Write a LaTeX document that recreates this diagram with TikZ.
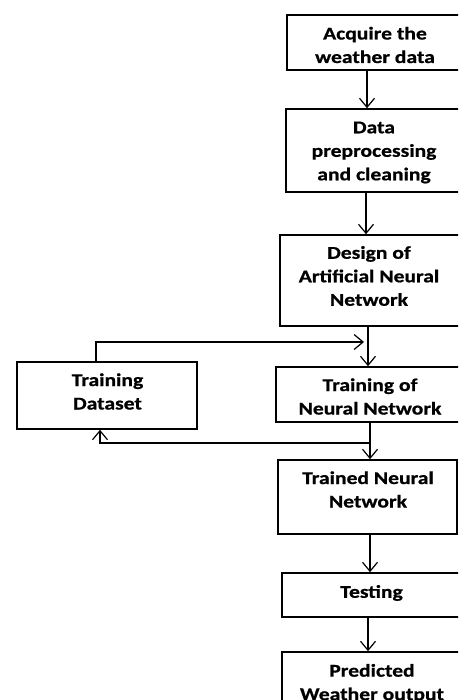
\documentclass[tikz,border=0pt]{standalone}
\usepackage{fontspec}
\setmainfont{Carlito}[FakeStretch=1.2,BoldFeatures={FakeBold=0.8}]
\usetikzlibrary{arrows.meta}
\begin{document}
\begin{tikzpicture}[x=1pt,y=-1pt,
  box/.style={draw=black,line width=1.6pt,rectangle,inner sep=0pt},
  txt/.style={align=center,font=\fontsize{18}{23.5}\selectfont\bfseries,inner sep=0pt,text=black},
  arr/.style={draw=black,line width=1.2pt,-{Straight Barb[length=9pt,width=15pt,line width=1.2pt]}},
  ln/.style={draw=black,line width=1.2pt}]
\useasboundingbox (0,0) rectangle (458,700);
\clip (0,0) rectangle (458,700);
% boxes
\node[box,minimum width=176pt,minimum height=55pt] (b1) at (375,42.5) {};
\node[box,minimum width=176pt,minimum height=83pt] (b2) at (374,150.5) {};
\node[box,minimum width=182pt,minimum height=91pt] (b3) at (371,280.5) {};
\node[box,minimum width=188pt,minimum height=55pt] (b4) at (370,394.5) {};
\node[box,minimum width=180pt,minimum height=67pt] (td) at (107,395.5) {};
\node[box,minimum width=179pt,minimum height=74pt] (b5) at (367.5,497) {};
\node[box,minimum width=180pt,minimum height=44pt] (b6) at (372,595) {};
\node[box,minimum width=180pt,minimum height=68pt] (b7) at (372,686) {};
% texts
\node[txt] (t1) at (375,45) {Acquire the\\weather data};
\node[txt] (t2) at (374,152.5) {Data\\preprocessing\\and cleaning};
\node[txt] (t3) at (369,276) {Design of\\Artificial Neural\\Network};
\node[txt] (t4) at (370,396.5) {Training of\\Neural Network};
\node[txt] (ttd) at (107.5,391.5) {Training\\Dataset};
\node[txt] (t5) at (368,489.5) {Trained Neural\\Network};
\node[txt] (t6) at (371.5,593) {Testing};
\node[txt] (t7) at (372,683.5) {Predicted\\Weather output};
% arrows
\draw[arr] (b1.south -| 367,0) -- (b2.north -| 367,0);
\draw[arr] (b2.south -| 366,0) -- (b3.north -| 366,0);
\draw[arr] (b3.south -| 368,0) -- (b4.north -| 368,0);
\draw[arr] (b4.south -| 370,0) -- (b5.north -| 370,0);
\draw[arr] (b5.south -| 370,0) -- (b6.north -| 370,0);
\draw[arr] (b6.south -| 368,0) -- (b7.north -| 368,0);
% feedback loop
\coordinate (fin) at (364,342);
\draw[arr] (td.north -| 96,0) |- (fin);
\coordinate (split) at (370,443);
\draw[arr] (split) -| (td.south -| 100,0);
\end{tikzpicture}
\end{document}
